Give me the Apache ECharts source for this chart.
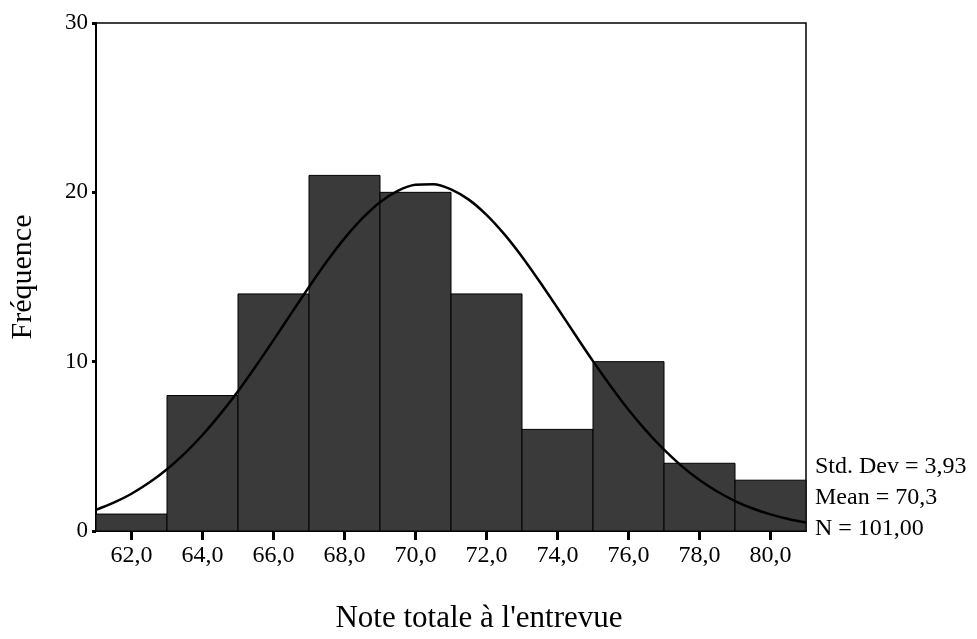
<!DOCTYPE html>
<html>

<head>
  <meta charset="UTF-8">
  <title>Note totale à l'entrevue</title>
  <script src="https://cdn.jsdelivr.net/npm/echarts@6/dist/echarts.min.js"></script>
  <style>
    body {
      margin: 0;
      padding: 0;
      background: #fff;
    }

    #chart {
      width: 977px;
      height: 639px;
    }
  </style>
</head>

<body>
  <div id="chart"></div>

  <script>
    // histogram bins (centres) and counts
    var binCentres = [62, 64, 66, 68, 70, 72, 74, 76, 78, 80];
    var binCounts = [1, 8, 14, 21, 20, 14, 6, 10, 4, 3];
    var binWidth = 2;

    // normal curve, every half unit
    var curveX = [61, 61.5, 62, 62.5, 63, 63.5, 64, 64.5, 65, 65.5, 66, 66.5, 67, 67.5, 68, 68.5, 69, 69.5, 70, 70.5,
      71, 71.5, 72, 72.5, 73, 73.5, 74, 74.5, 75, 75.5, 76, 76.5, 77, 77.5, 78, 78.5, 79, 79.5, 80, 80.5, 81];
    var curveY = [1.25, 1.67, 2.2, 2.86, 3.65, 4.59, 5.67, 6.9, 8.25, 9.73, 11.27, 12.85, 14.41, 15.91, 17.28, 18.46, 19.42, 20.09, 20.45, 20.48,
      20.18, 19.57, 18.67, 17.53, 16.2, 14.72, 13.17, 11.59, 10.03, 8.55, 7.16, 5.91, 4.8, 3.83, 3.01, 2.33, 1.77, 1.33, 0.98, 0.71, 0.5];

    var xTicks = [62, 64, 66, 68, 70, 72, 74, 76, 78, 80];
    var statsLines = ['Std. Dev = 3,93', 'Mean = 70,3', 'N = 101,00'];

    var serif = '"Liberation Serif", "DejaVu Serif", serif';

    var chart = echarts.init(document.getElementById('chart'), null, { renderer: 'canvas' });

    var barData = binCentres.map(function (c, i) { return [c, binCounts[i]]; });
    var lineData = curveX.map(function (x, i) { return [x, curveY[i]]; });

    function renderBar(params, api) {
      var x = api.value(0);
      var y = api.value(1);
      var p0 = api.coord([x - binWidth / 2, y]);
      var p1 = api.coord([x + binWidth / 2, 0]);
      return {
        type: 'rect',
        shape: { x: p0[0], y: p0[1], width: p1[0] - p0[0], height: p1[1] - p0[1] },
        style: { fill: '#3a3a3a', stroke: '#000', lineWidth: 1 }
      };
    }

    var option = {
      animation: false,
      backgroundColor: '#fff',
      grid: {
        left: 92,
        right: 171,
        top: 23,
        bottom: 108,
        show: true,
        borderColor: '#000',
        borderWidth: 1.5
      },
      xAxis: {
        type: 'value',
        min: 61,
        max: 81,
        name: "Note totale à l'entrevue",
        nameLocation: 'middle',
        nameGap: 72,
        nameTextStyle: {
          fontFamily: serif,
          fontSize: 31,
          color: '#000',
          padding: [0, 0, 0, 56]
        },
        axisLine: { lineStyle: { color: '#000', width: 2 } },
        axisTick: {
          customValues: xTicks,
          length: 9,
          lineStyle: { color: '#000', width: 3 }
        },
        axisLabel: {
          customValues: xTicks,
          margin: 13,
          fontFamily: serif,
          fontSize: 24,
          color: '#000',
          formatter: function (v) { return v.toFixed(1).replace('.', ','); }
        },
        splitLine: { show: false }
      },
      yAxis: {
        type: 'value',
        min: 0,
        max: 30,
        interval: 10,
        name: 'Fréquence',
        nameLocation: 'middle',
        nameGap: 58,
        nameTextStyle: {
          fontFamily: serif,
          fontSize: 30,
          color: '#000'
        },
        axisLine: { show: true, lineStyle: { color: '#000', width: 2 } },
        axisTick: { length: 4, lineStyle: { color: '#000', width: 3 } },
        axisLabel: {
          margin: 8,
          fontFamily: serif,
          fontSize: 23,
          color: '#000'
        },
        splitLine: { show: false }
      },
      graphic: statsLines.map(function (t, i) {
        return {
          type: 'text',
          left: 815,
          top: 455 + i * 31,
          style: { text: t, fontFamily: serif, fontSize: 24, fill: '#000' }
        };
      }),
      series: [
        {
          type: 'custom',
          renderItem: renderBar,
          data: barData,
          encode: { x: 0, y: 1 },
          z: 2
        },
        {
          type: 'line',
          data: lineData,
          smooth: 0.3,
          showSymbol: false,
          lineStyle: { color: '#000', width: 2.5 },
          z: 3
        }
      ]
    };

    chart.setOption(option);
  </script>
</body>

</html>
